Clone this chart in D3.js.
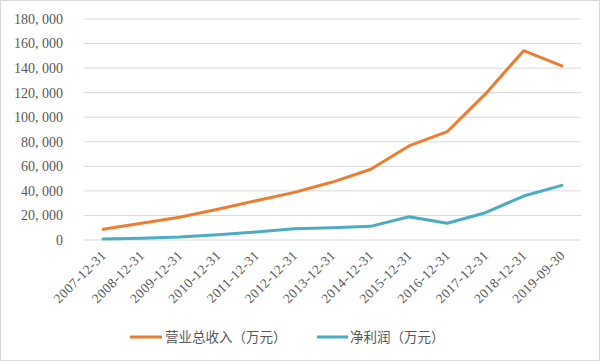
<!DOCTYPE html>
<html><head><meta charset="utf-8">
<script src="https://cdn.jsdelivr.net/npm/d3@7"></script>
<style>body{margin:0;background:#fff}svg{display:block}</style>
</head><body>
<svg id="c" width="600" height="361"></svg>
<script>
const categories = ["2007-12-31","2008-12-31","2009-12-31","2010-12-31","2011-12-31","2012-12-31","2013-12-31","2014-12-31","2015-12-31","2016-12-31","2017-12-31","2018-12-31","2019-09-30"];
const revenue = [8700,13600,18500,25000,32000,38800,47200,57600,76600,88200,119000,154200,141800];
const netProfit = [800,1500,2400,4300,6500,9200,10000,11100,19000,13600,22200,35800,44500];
const yTicks = [0,20000,40000,60000,80000,100000,120000,140000,160000,180000];
const seriesNames = ["营业总收入（万元）","净利润（万元）"];
const colors = ["#ED7D31","#4BACC6"];

(function(){
const svg = d3.select("#c");
svg.append("rect").attr("x",0.5).attr("y",0.5).attr("width",599).attr("height",360)
  .attr("fill","#fff").attr("stroke","#D9D9D9");

const pLeft=84, pRight=581, pTop=19, pBottom=240;
const x = d3.scalePoint().domain(categories).range([pLeft,pRight]).padding(0.5);
const y = d3.scaleLinear().domain([0,180000]).range([pBottom,pTop]);

const fmt = d3.format(",");
const g = svg.append("g");
g.selectAll("line.grid").data(yTicks).join("line")
  .attr("x1",pLeft).attr("x2",pRight)
  .attr("y1",d=>y(d)).attr("y2",d=>y(d))
  .attr("stroke","#D9D9D9").attr("stroke-width",1);
g.selectAll("text.yl").data(yTicks).join("text")
  .attr("x",63).attr("y",d=>y(d)).attr("dy","0.35em")
  .attr("text-anchor","end").attr("fill","#595959")
  .attr("font-family","'Liberation Serif','DejaVu Serif',serif").attr("font-size",14)
  .text(d=>fmt(d).replace(/,/g,", "));

g.selectAll("text.xl").data(categories).join("text")
  .attr("transform",d=>`translate(${x(d)+4},${256}) rotate(-45)`)
  .attr("text-anchor","end").attr("fill","#595959")
  .attr("font-family","'Liberation Serif','DejaVu Serif',serif").attr("font-size",13.5)
  .attr("letter-spacing",0.5)
  .text(d=>d);

const line = d3.line().x((d,i)=>x(categories[i])).y(d=>y(d));
[revenue,netProfit].forEach((s,k)=>{
  g.append("path").datum(s).attr("d",line).attr("fill","none")
   .attr("stroke",colors[k]).attr("stroke-width",3).attr("stroke-linejoin","round").attr("stroke-linecap","round");
});

const lg = [{x1:130,x2:162,tx:165},{x1:317,x2:348,tx:350}];
lg.forEach((p,k)=>{
  svg.append("line").attr("x1",p.x1).attr("x2",p.x2).attr("y1",337).attr("y2",337)
    .attr("stroke",colors[k]).attr("stroke-width",3);
  svg.append("text").attr("x",p.tx).attr("y",337).attr("dy","0.35em")
    .attr("fill","#595959").attr("font-family","'Noto Sans CJK SC',sans-serif").attr("font-size",13.5)
    .text(seriesNames[k]);
});
})();
</script>
</body></html>
